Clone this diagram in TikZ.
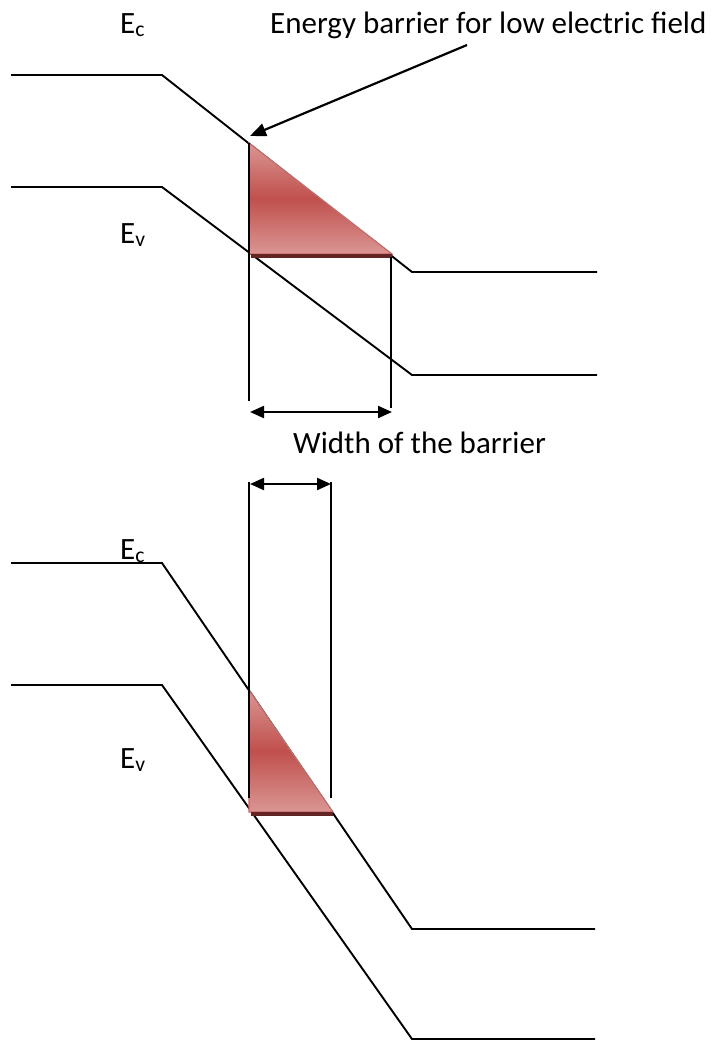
\documentclass[tikz,border=0pt]{standalone}
\usepackage{fontspec}
\setmainfont{Carlito}
\usetikzlibrary{positioning,arrows.meta}
\definecolor{barred}{HTML}{C0504D}
\definecolor{barlight}{HTML}{DA9694}
\definecolor{bardark}{HTML}{632523}

\begin{document}
\begin{tikzpicture}[x=1pt, y=-1pt,
  band/.style={line width=1.9pt},
  barrier/.style={top color=barlight, bottom color=barlight, middle color=barred, draw=barred!85, line width=1.2pt, line join=miter},
  barrierbase/.style={bardark, line width=3.5pt},
  dimarrow/.style={line width=2.2pt, {Triangle[length=14pt,width=12pt]}-{Triangle[length=14pt,width=12pt]}},
  pointer/.style={line width=2.2pt, -{Triangle[length=16pt,width=13pt]}},
  lbl/.style={inner sep=0pt, anchor=base west, font=\fontsize{31}{34}\selectfont}]
  \useasboundingbox (0,0) rectangle (724,1042);

  % bands: low field (a), high field (b)
  \foreach \band/\ya/\yb/\xe in {ca/75/272/597, va/187/375/597, cb/563/929/595, vb/685/1039/595} {
    \draw[band] (11,\ya) coordinate (\band0) -- (162,\ya) coordinate (\band1)
      -- (412,\yb) coordinate (\band2) -- (\xe,\yb) coordinate (\band3);
  }

  % barrier, low field
  \coordinate (ta1) at (249,143);
  \coordinate (ta2) at (249,254);
  \coordinate (ta3) at (392,254);
  \fill[barrier] (ta1) -- (ta2) -- (ta3) -- cycle;
  \draw[barrierbase] (251,256) -- (392,256);
  \draw[band] (ta1) -- (249,401);
  \draw[band] (391,257) -- (391,408);
  \coordinate (wa1) at (250,412);
  \coordinate (wa2) at (392,412);
  \draw[dimarrow] (wa1) -- (wa2);

  % barrier, high field
  \coordinate (tb1) at (249,690);
  \coordinate (tb2) at (249,812);
  \coordinate (tb3) at (333,812);
  \fill[barrier] (tb1) -- (tb2) -- (tb3) -- cycle;
  \draw[barrierbase] (251,814) -- (333,814);
  \draw[band] (249,482) -- (249,798);
  \draw[band] (331,482) -- (331,798);
  \coordinate (wb1) at (250,484);
  \coordinate (wb2) at (331,484);
  \draw[dimarrow] (wb1) -- (wb2);

  % labels
  \node[lbl] (eca) at (120,33) {E\textsubscript{c}};
  \node[lbl] (eva) at (120,243) {E\textsubscript{v}};
  \node[lbl] (ecb) at (120,559) {E\textsubscript{c}};
  \node[lbl] (evb) at (120,768) {E\textsubscript{v}};
  \node[lbl] (lowfield) at (270,33) {Energy barrier for low electric field};
  \node[lbl] (width) at (293,453) {Width of the barrier};

  \coordinate (fieldtail) at (467,45);
  \coordinate (fieldtip) at (250,136);
  \draw[pointer] (fieldtail) -- (fieldtip);
\end{tikzpicture}
\end{document}
